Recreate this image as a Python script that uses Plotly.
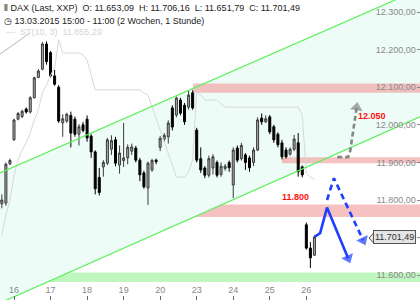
import plotly.graph_objects as go

# ---------------- data ----------------
day_labels = ["16", "17", "18", "19", "20", "23", "24", "25", "26"]
day_start_idx = [3, 12, 21, 30, 39, 48, 57, 66, 75]

opens = [11790, 11792, 11896, 11960, 12015, 12022, 12042, 12034, 12072, 12126,
         12148, 12215, 12192, 12130, 12100, 12005, 12010, 12025, 12015, 11975,
         12000, 12015, 11970, 11928, 11860, 11888, 11898, 11935, 11960, 11893,
         11905, 11912, 11930, 11938, 11906, 11872, 11832, 11880, 11906, 11940,
         11962, 11968, 12045, 12026, 12066, 12052, 12047, 12085, 11986, 11910,
         11885, 11866, 11885, 11900, 11868, 11884, 11900, 11840, 11938, 11910,
         11920, 11912, 11900, 11933, 12018, 12008, 12021, 11995, 11975, 11952,
         11933, 11922, 11935, 11952, 11888, 11734, 11672, 11653.09]
highs = [11815, 11900, 11910, 12016, 12034, 12040, 12046, 12076, 12128, 12148,
         12220, 12222, 12196, 12146, 12106, 12028, 12032, 12035, 12022, 12002,
         12008, 12025, 11975, 11932, 11885, 11906, 11965, 11972, 11968, 11945,
         12005, 11948, 11950, 11944, 11912, 11878, 11902, 11910, 11910, 11970,
         11978, 12012, 12052, 12075, 12072, 12058, 12090, 12092, 11992, 11940,
         11890, 11918, 11922, 11905, 11900, 11896, 11905, 11940, 11945, 11952,
         11925, 11918, 11940, 12020, 12030, 12025, 12026, 12000, 11980, 11960,
         11940, 11940, 11973, 11978, 11892, 11740, 11688, 11706.16]
lows = [11778, 11785, 11893, 11958, 12012, 12018, 12030, 12030, 12070, 12124,
        12145, 12160, 12126, 12104, 12005, 11968, 12005, 11940, 11968, 11945,
        11980, 11955, 11912, 11815, 11812, 11862, 11893, 11920, 11890, 11870,
        11888, 11895, 11920, 11900, 11850, 11830, 11787, 11875, 11895, 11930,
        11955, 11950, 11985, 12020, 12025, 12000, 12040, 12040, 11900, 11872,
        11858, 11860, 11868, 11860, 11862, 11878, 11875, 11805, 11900, 11905,
        11880, 11875, 11890, 11930, 12000, 12005, 11975, 11952, 11940, 11908,
        11910, 11918, 11930, 11862, 11860, 11668, 11619, 11651.79]
closes = [11800, 11895, 11905, 12013, 12030, 12036, 12034, 12072, 12125, 12143,
          12215, 12168, 12130, 12108, 12010, 12016, 12028, 11978, 11975, 11995,
          11985, 11965, 11928, 11830, 11820, 11900, 11960, 11958, 11898, 11925,
          11912, 11940, 11941, 11906, 11867, 11835, 11898, 11905, 11902, 11964,
          11972, 12005, 11994, 12071, 12031, 12008, 12079, 12045, 11906, 11880,
          11866, 11910, 11915, 11866, 11890, 11890, 11886, 11933, 11906, 11945,
          11900, 11886, 11933, 12013, 12008, 12016, 11981, 11960, 11947, 11915,
          11915, 11935, 11962, 11875, 11867, 11672, 11646, 11701.49]
candle_idx = list(range(len(closes)))

# SuperTrend ST(10,3) values (None = gap bridged by the line)
st_values = [11707, 11760, 11800, 11866, 11906, 11933, 11952, 11978, 12013, 12039,
             12087, 12106, 12132, 12151, 12226, 12191, 12191, 12191, 12191, 12191,
             12186, 12172, 12132, 12093, 12093, 12093, 12093, 12093, 12093, 12093,
             12093, 12093, 12093, 12093, 12093, 12085, 12079, None, None, None,
             None, None, None, 11861, 11861, 11861, 11874, 11906, 12087, 12079,
             12066, 12066, 12066, 12066, 12055, 12047, 12047, 12047, 12047, 12047,
             12047, 12047, 12047, 12047, 12047, 12047, 12047, 12047, 12047, 12047,
             12047, 12047, 12047, 12047, 12026, 11872, 11861, 11855.29]

# channel (trend lines) : x index and value at both ends
chan_x = [-0.45, 103.0]
chan_upper = [11872, 12361]
chan_lower = [11526, 12021]
# short gray trend line top-left
gray_x = [-0.45, 6.9]
gray_y = [12188, 12244]

# zones
zone_res_top = [12085, 12110]
zone_res_mid = [11898, 11914]
zone_res_low = [11755, 11788]
zone_sup = [11582, 11607]

# scenario arrows
arrow_gray_x = [82.6, 85.3, 85.8, 87.4]
arrow_gray_y = [11914, 11914, 11930, 12046]
arrow_solid_x = [77.0, 78.4, 80.1, 85.3]
arrow_solid_y = [11701.49, 11712, 11780, 11645]
arrow_dash_x = [80.1, 81.8, 89.0]
arrow_dash_y = [11800, 11858, 11693]

y_ticks = [11600, 11700, 11800, 11900, 12000, 12100, 12200, 12300]
y_ticktext = ["11.600,00", "11.700,00", "11.800,00", "11.900,00",
              "12.000,00", "12.100,00", "12.200,00", "12.300,00"]

FONT = "Liberation Sans, Arial, sans-serif"
BLUE = "#1f3fff"

fig = go.Figure()

# SuperTrend
fig.add_trace(go.Scatter(x=candle_idx, y=st_values, mode="lines", connectgaps=True,
                         line=dict(color="#d8d8d8", width=1), hoverinfo="skip"))

fig.add_trace(go.Candlestick(
    x=candle_idx, open=opens, high=highs, low=lows, close=closes,
    increasing=dict(line=dict(color="#3a3a3a", width=1), fillcolor="#a8a8a8"),
    decreasing=dict(line=dict(color="#000000", width=1), fillcolor="#000000"),
    whiskerwidth=0, hoverinfo="skip"))

# channel lines
for vals, col in [(chan_upper, "#5cf05c"), (chan_lower, "#5cf05c")]:
    fig.add_trace(go.Scatter(x=chan_x, y=vals, mode="lines",
                             line=dict(color=col, width=1.2), hoverinfo="skip"))
fig.add_trace(go.Scatter(x=gray_x, y=gray_y, mode="lines",
                         line=dict(color="#b5b5b5", width=1), hoverinfo="skip"))


def arrow(xs, ys, color, dash):
    fig.add_trace(go.Scatter(
        x=xs, y=ys, mode="lines+markers",
        line=dict(color=color, width=2.6, dash=dash),
        marker=dict(symbol="triangle-up", angleref="previous",
                    size=[0] * (len(xs) - 1) + [11], color=color, line=dict(width=0)),
        hoverinfo="skip"))


arrow(arrow_gray_x, arrow_gray_y, "#858585", "5px,3px")
arrow(arrow_solid_x, arrow_solid_y, BLUE, "solid")
arrow(arrow_dash_x, arrow_dash_y, BLUE, "6px,4px")

shapes = []
# channel fill
path = "M {x0},{a0} L {x1},{a1} L {x1},{b1} L {x0},{b0} Z".format(
    x0=chan_x[0], x1=chan_x[1], a0=chan_upper[0], a1=chan_upper[1], b0=chan_lower[0], b1=chan_lower[1])
shapes.append(dict(type="path", path=path, xref="x", yref="y", layer="below",
                   fillcolor="#eefcf7", line=dict(width=0)))
red = "rgba(240,160,160,0.65)"
shapes.append(dict(type="rect", xref="x", yref="y", x0=47.1, x1=104, y0=zone_res_top[0], y1=zone_res_top[1],
                   fillcolor=red, line=dict(width=0), layer="below"))
shapes.append(dict(type="rect", xref="x", yref="y", x0=69.0, x1=104, y0=zone_res_mid[0], y1=zone_res_mid[1],
                   fillcolor=red, line=dict(width=0), layer="below"))
shapes.append(dict(type="rect", xref="paper", yref="y", x0=0, x1=1, y0=zone_res_low[0], y1=zone_res_low[1],
                   fillcolor=red, line=dict(width=0), layer="below"))
shapes.append(dict(type="rect", xref="paper", yref="y", x0=0, x1=1, y0=zone_sup[0], y1=zone_sup[1],
                   fillcolor="rgba(150,240,150,0.6)", line=dict(width=0), layer="below"))
# price tag pointer
px0 = 369 / 420
px1 = 373.5 / 420
shapes.append(dict(type="path", xref="paper", yref="paper",
                   path="M {a},{m} L {b},{t} L {b},{bt} Z".format(a=px0, b=px1, m=1 - 238 / 300,
                                                                  t=1 - 233 / 300, bt=1 - 243 / 300),
                   fillcolor="#e4e4e4", line=dict(color="#555", width=1), layer="above"))

annotations = [
    dict(xref="paper", yref="paper", x=2 / 420, y=1 - 8 / 300, xanchor="left", yanchor="middle",
         text="⫴ DAX (Last, XXP)  O: 11.653,09  H: 11.706,16  L: 11.651,79  C: 11.701,49",
         showarrow=False, font=dict(family=FONT, size=9, color="#222")),
    dict(xref="paper", yref="paper", x=2 / 420, y=1 - 20.5 / 300, xanchor="left", yanchor="middle",
         text="◷ 13.03.2015 15:00 - 11:00 (2 Wochen, 1 Stunde)",
         showarrow=False, font=dict(family=FONT, size=9, color="#222")),
    dict(xref="paper", yref="paper", x=4 / 420, y=1 - 32 / 300, xanchor="left", yanchor="middle",
         text="—  ST(10, 3)  11.855,29",
         showarrow=False, font=dict(family=FONT, size=9, color="#d6d6d6")),
    dict(xref="paper", yref="y", x=371.5 / 420, y=12024, text="<b>12.050</b>", showarrow=False,
         xanchor="center", yanchor="middle",
         font=dict(family=FONT, size=9, color="#ff1010")),
    dict(xref="paper", yref="y", x=295 / 420, y=11808, text="<b>11.800</b>", showarrow=False,
         xanchor="center", yanchor="middle",
         font=dict(family=FONT, size=9, color="#ff1010")),
    dict(xref="paper", yref="y", x=373 / 420, y=closes[-1], xanchor="left", yanchor="middle",
         text="11.701,49", showarrow=False, bgcolor="#e4e4e4", bordercolor="#555", borderwidth=1,
         borderpad=1, font=dict(family=FONT, size=9, color="#333")),
]

fig.update_layout(
    width=420, height=300, autosize=False,
    margin=dict(l=0, r=0, t=0, b=0, pad=0),
    paper_bgcolor="white", plot_bgcolor="white",
    showlegend=False, shapes=shapes, annotations=annotations,
    font=dict(family=FONT, size=9, color="#888"),
    xaxis=dict(range=[-0.45, 103.0], tickvals=day_start_idx, ticktext=day_labels,
               showgrid=False, zeroline=False, showline=False, rangeslider=dict(visible=False),
               ticks="inside", ticklen=4, tickcolor="#666", ticklabelposition="inside",
               tickfont=dict(family=FONT, size=9, color="#888")),
    yaxis=dict(range=[11534, 12332], side="right", tickvals=y_ticks, ticktext=y_ticktext,
               showgrid=False, zeroline=False, showline=False,
               ticks="inside", ticklen=3, tickcolor="#888", ticklabelposition="inside",
               tickfont=dict(family=FONT, size=9, color="#8a8a8a")),
)

fig.write_html("out.html")
